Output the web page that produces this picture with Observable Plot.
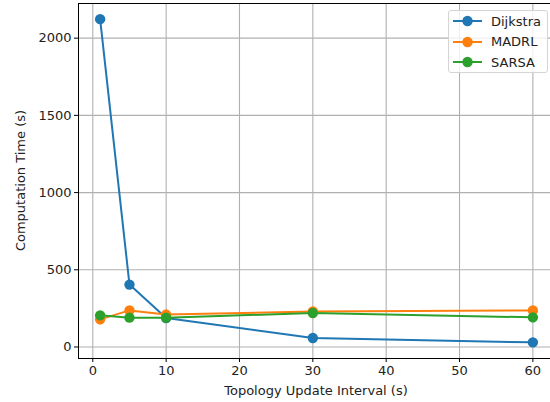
<!DOCTYPE html>
<html>
<head>
<meta charset="utf-8">
<script src="https://cdn.jsdelivr.net/npm/d3@7"></script>
<script src="https://cdn.jsdelivr.net/npm/@observablehq/plot@0.6"></script>
<style>
  body { margin: 0; background: #fff; }
  #wrap { position: relative; width: 550px; height: 402px; font-family: "DejaVu Sans", sans-serif; }
  #legend { position: absolute; left: 448px; top: 10px; width: 100px; height: 63px; border: 1px solid #d5d5d5; border-radius: 3px; background: rgba(255,255,255,0.8); box-sizing: border-box; }
  .row { position: absolute; left: 0; height: 20px; display: flex; align-items: center; font-size: 13px; color: #222; }
  .row svg { margin-left: 4px; margin-right: 9px; }
</style>
</head>
<body>
<div id="wrap"></div>
<script>
const intervals = [1, 5, 10, 30, 60];
const seriesNames = ["Dijkstra", "MADRL", "SARSA"];
const dijkstra = [2123, 404, 188, 58, 30];
const madrl = [179, 237, 210, 230, 237];
const sarsa = [205, 190, 190, 220, 192];
const colors = ["#1f77b4", "#ff7f0e", "#2ca02c"];
const xTicks = [0, 10, 20, 30, 40, 50, 60];
const yTicks = [0, 500, 1000, 1500, 2000];

const values = [dijkstra, madrl, sarsa];
const rows = [];
seriesNames.forEach((s, i) => intervals.forEach((x, j) => rows.push({series: s, x, y: values[i][j]})));

const marks = [
  Plot.gridX(xTicks, {stroke: "#b0b0b0", strokeOpacity: 1, strokeWidth: 1.1}),
  Plot.gridY(yTicks, {stroke: "#b0b0b0", strokeOpacity: 1, strokeWidth: 1.1}),
];
seriesNames.forEach((s, i) => {
  const d = rows.filter(r => r.series === s);
  marks.push(Plot.line(d, {x: "x", y: "y", stroke: colors[i], strokeWidth: 2}));
  marks.push(Plot.dot(d, {x: "x", y: "y", fill: colors[i], r: 5.2}));
});
marks.push(Plot.ruleX([-1.95], {stroke: "#000", strokeWidth: 1}));
marks.push(Plot.ruleY([-74.5], {stroke: "#000", strokeWidth: 1}));
marks.push(Plot.ruleY([2224.5], {stroke: "#000", strokeWidth: 1}));
marks.push(Plot.ruleX([62.95], {stroke: "#000", strokeWidth: 1}));
marks.push(Plot.axisX(xTicks, {tickSize: 4, tickPadding: 3, fontSize: 13, fill: "#222", label: null, tickFormat: d => String(d)}));
marks.push(Plot.axisY(yTicks, {tickSize: 4, tickPadding: 3, fontSize: 13, fill: "#222", label: null, tickFormat: d => String(d)}));

const chart = Plot.plot({
  width: 550,
  height: 402,
  marginLeft: 78,
  marginRight: -4,
  marginTop: 3,
  marginBottom: 44,
  style: {fontFamily: "DejaVu Sans, sans-serif", fontSize: "13px", overflow: "hidden"},
  x: {domain: [-1.95, 62.95]},
  y: {domain: [-74.5, 2224.5]},
  marks
});
const wrap = document.getElementById("wrap");
wrap.appendChild(chart);

const svgNS = "http://www.w3.org/2000/svg";
function addText(txt, x, y, rot) {
  const t = document.createElementNS(svgNS, "text");
  t.textContent = txt;
  t.setAttribute("x", x); t.setAttribute("y", y);
  t.setAttribute("text-anchor", "middle");
  t.setAttribute("font-size", "13");
  t.setAttribute("fill", "#222");
  t.setAttribute("font-family", "DejaVu Sans, sans-serif");
  if (rot) t.setAttribute("transform", `rotate(-90 ${x} ${y})`);
  chart.appendChild(t);
}
addText("Topology Update Interval (s)", 316, 395);
addText("Computation Time (s)", 25, 180.5, true);

const legend = document.createElement("div");
legend.id = "legend";
seriesNames.forEach((s, i) => {
  const r = document.createElement("div");
  r.className = "row";
  r.style.top = (i * 20.5) + "px";
  r.innerHTML = `<svg width="29" height="12"><line x1="0" x2="29" y1="6" y2="6" stroke="${colors[i]}" stroke-width="2"/><circle cx="14.5" cy="6" r="5.2" fill="${colors[i]}"/></svg><span>${s}</span>`;
  legend.appendChild(r);
});
wrap.appendChild(legend);
</script>
</body>
</html>
